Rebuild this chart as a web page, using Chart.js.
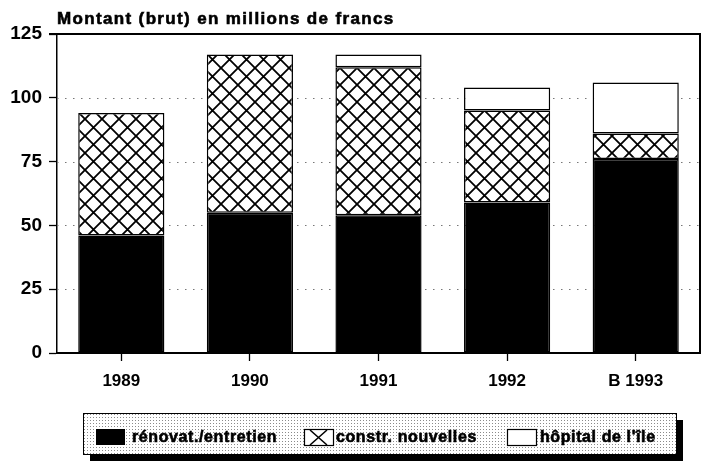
<!DOCTYPE html>
<html>
<head>
<meta charset="utf-8">
<script src="https://cdn.jsdelivr.net/npm/chart.js@4/dist/chart.umd.min.js"></script>
<style>
  html, body { margin: 0; padding: 0; background: #fff; }
  canvas { display: block; }
</style>
</head>
<body>
<canvas id="c" width="709" height="463"></canvas>
<script>
// ---- data ----
const categories = ['1989', '1990', '1991', '1992', 'B 1993'];
const renovation = [46, 55, 54, 59, 76];      // rénovat./entretien
const constructions = [48, 62, 58, 36, 10];   // constr. nouvelles
const hopital = [0, 0, 5, 9, 20];             // hôpital de l'île
const seriesLabels = ['rénovat./entretien', 'constr. nouvelles', "hôpital de l'île"];
const titleText = 'Montant (brut) en millions de francs';
const yMin = 0, yMax = 125, yStep = 25;

const canvas = document.getElementById('c');
const ctx0 = canvas.getContext('2d');

function makeHatch() {
  const c = document.createElement('canvas');
  c.width = 17; c.height = 17;
  const g = c.getContext('2d');
  g.fillStyle = '#fff'; g.fillRect(0, 0, 17, 17);
  g.strokeStyle = '#000'; g.lineWidth = 1.8;
  g.beginPath();
  g.moveTo(-3, -3); g.lineTo(20, 20);
  g.moveTo(20, -3); g.lineTo(-3, 20);
  g.stroke();
  return ctx0.createPattern(c, 'repeat');
}
function makeStipple() {
  const c = document.createElement('canvas');
  c.width = 3; c.height = 3;
  const g = c.getContext('2d');
  g.fillStyle = '#fff'; g.fillRect(0, 0, 3, 3);
  g.fillStyle = '#8a8a8a'; g.fillRect(0, 0, 1, 1);
  return ctx0.createPattern(c, 'repeat');
}
const hatch = makeHatch();
const stipple = makeStipple();

const FONT = "'Liberation Sans', Arial, sans-serif";

function boldText(ctx, text, x, y, spacing) {
  ctx.letterSpacing = spacing + 'px';
  ctx.fillText(text, x, y);
  ctx.lineWidth = 0.6;
  ctx.strokeStyle = '#000';
  ctx.strokeText(text, x, y);
  ctx.letterSpacing = '0px';
}

const framePlugin = {
  id: 'frame',
  beforeDatasetsDraw(chart) {
    const { ctx, chartArea: a, scales: { y } } = chart;
    ctx.save();
    ctx.strokeStyle = '#777';
    ctx.lineWidth = 1.2;
    ctx.setLineDash([1.5, 6.5]);
    for (let v = yMin + yStep; v < yMax; v += yStep) {
      const py = Math.round(y.getPixelForValue(v)) + 0.5;
      ctx.beginPath(); ctx.moveTo(a.left, py); ctx.lineTo(a.right, py); ctx.stroke();
    }
    ctx.restore();
  },
  afterDatasetsDraw(chart) {
    const { ctx, chartArea: a } = chart;
    ctx.save();
    ctx.strokeStyle = '#000';
    ctx.lineWidth = 2;
    ctx.beginPath();
    ctx.moveTo(a.left - 8, a.top); ctx.lineTo(a.right, a.top); ctx.lineTo(a.right, a.bottom);
    ctx.stroke();
    // title
    ctx.fillStyle = '#000';
    ctx.font = 'bold 17px ' + FONT;
    ctx.textBaseline = 'alphabetic';
    ctx.textAlign = 'left';
    boldText(ctx, titleText, a.left, 24, 1.35);
    ctx.restore();
  },
  afterDraw(chart) {
    const ctx = chart.ctx;
    const bx = 83, by = 413, bw = 593, bh = 41;
    ctx.save();
    ctx.fillStyle = '#000';
    ctx.fillRect(bx + 7, by + 7, bw, bh);
    ctx.fillStyle = stipple;
    ctx.fillRect(bx, by, bw, bh);
    ctx.strokeStyle = '#000'; ctx.lineWidth = 1;
    ctx.strokeRect(bx + 0.5, by + 0.5, bw, bh);
    const cy = 437;
    const items = [
      { x: 96, tx: 132, kind: 'solid' },
      { x: 304, tx: 336, kind: 'cross' },
      { x: 507, tx: 540, kind: 'white' }
    ];
    ctx.font = 'bold 16px ' + FONT;
    ctx.textBaseline = 'middle';
    items.forEach((it, i) => {
      const sw = 29, sh = 16, sy = cy - 8;
      if (it.kind === 'solid') {
        ctx.fillStyle = '#000'; ctx.fillRect(it.x, sy, sw, sh);
      } else {
        ctx.fillStyle = '#fff'; ctx.fillRect(it.x, sy, sw, sh);
        ctx.strokeStyle = '#000'; ctx.lineWidth = 1.2;
        ctx.strokeRect(it.x + 0.5, sy + 0.5, sw, sh);
        if (it.kind === 'cross') {
          ctx.beginPath();
          ctx.moveTo(it.x + 6, sy + 1); ctx.lineTo(it.x + sw - 6, sy + sh);
          ctx.moveTo(it.x + sw - 6, sy + 1); ctx.lineTo(it.x + 6, sy + sh);
          ctx.lineWidth = 1.6; ctx.stroke();
        }
      }
      ctx.fillStyle = '#000';
      boldText(ctx, chart.data.datasets[i].label, it.tx, cy + 1, 0.6);
    });
    ctx.restore();
  }
};

const common = { borderColor: '#000', borderWidth: 1.5, borderSkipped: false, barPercentage: 0.67, categoryPercentage: 1 };

new Chart(canvas, {
  type: 'bar',
  data: {
    labels: categories,
    datasets: [
      Object.assign({ label: seriesLabels[0], data: renovation, backgroundColor: '#000' }, common),
      Object.assign({ label: seriesLabels[1], data: constructions, backgroundColor: hatch }, common),
      Object.assign({ label: seriesLabels[2], data: hopital, backgroundColor: '#fff' }, common)
    ]
  },
  options: {
    responsive: false,
    animation: false,
    devicePixelRatio: 1,
    layout: { padding: { top: 34, right: 9, left: 0, bottom: 0 } },
    plugins: { legend: { display: false }, tooltip: { enabled: false }, title: { display: false } },
    scales: {
      x: {
        stacked: true,
        afterFit(s) { s.height = 110; },
        grid: { offset: false, drawOnChartArea: false, drawTicks: true, tickLength: 8, tickColor: '#000', tickWidth: 1.3 },
        border: { color: '#000', width: 2 },
        ticks: { color: '#000', font: { family: FONT, weight: 'bold', size: 17 }, padding: 10 }
      },
      y: {
        stacked: true,
        min: yMin, max: yMax,
        afterFit(s) { s.width = 57; },
        grid: { drawOnChartArea: false, drawTicks: true, tickLength: 8, tickColor: '#000', tickWidth: 1.3 },
        border: { color: '#000', width: 1.5 },
        ticks: { stepSize: yStep, color: '#000', font: { family: FONT, weight: 'bold', size: 19 }, padding: 7 }
      }
    }
  },
  plugins: [framePlugin]
});
</script>
</body>
</html>
